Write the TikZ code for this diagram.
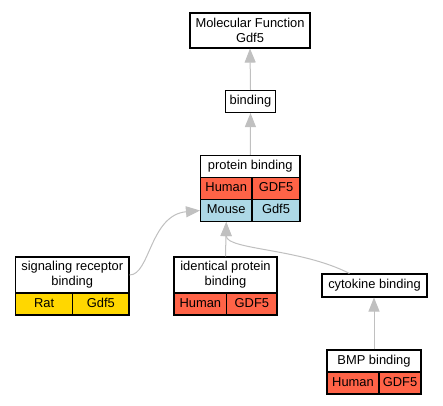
\documentclass[tikz,border=0pt]{standalone}
\usepackage{fontspec}
\setmainfont{Liberation Sans}
\usetikzlibrary{arrows.meta}
\definecolor{human}{HTML}{FF6347}
\definecolor{mouse}{HTML}{ADD8E6}
\definecolor{rat}{HTML}{FFD700}
\definecolor{edgegray}{HTML}{C0C0C0}
\begin{document}
\begin{tikzpicture}[x=1pt,y=-1pt,
  box/.style={draw=black,line width=1.1pt,inner sep=0pt,align=center,
    font=\fontsize{12.9}{15}\selectfont},
  one/.style={box,text height=9.4pt,text depth=2.6pt},
  conn/.style={draw=edgegray,line width=1pt,
    -{Triangle[length=14pt,width=11pt,fill=edgegray,color=edgegray]}}]
\useasboundingbox (0,0) rectangle (443,405);
\fill[white] (0,0) rectangle (443,405);
% Molecular Function
\node[box,minimum width=120pt,minimum height=35pt] (mf) at (250,30.5) {Molecular Function\\Gdf5};
% binding
\node[one,minimum width=50pt,minimum height=22pt] (bind) at (250.5,101.5) {binding};
% protein binding table
\node[one,fill=white,minimum width=99.5pt,minimum height=22pt] (pbh) at (250.25,166.5) {protein binding};
\node[one,fill=human,minimum width=51.5pt,minimum height=22pt] (pbH) at (226.25,188.5) {Human};
\node[one,fill=human,minimum width=48pt,minimum height=22pt] (pbG) at (276,188.5) {GDF5};
\node[one,fill=mouse,minimum width=51.5pt,minimum height=22pt] (pbM) at (226.25,210.5) {Mouse};
\node[one,fill=mouse,minimum width=48pt,minimum height=22pt] (pbg) at (276,210.5) {Gdf5};
% signaling receptor binding
\node[box,fill=white,minimum width=113.5pt,minimum height=36pt] (srh) at (72.25,275) {signaling receptor\\binding};
\node[one,fill=rat,minimum width=57.2pt,minimum height=22pt] (srR) at (44.1,304) {Rat};
\node[one,fill=rat,minimum width=56.3pt,minimum height=22pt] (srG) at (100.85,304) {Gdf5};
% identical protein binding
\node[box,fill=white,minimum width=103pt,minimum height=36pt] (iph) at (225.5,275) {identical protein\\binding};
\node[one,fill=human,minimum width=52.7pt,minimum height=22pt] (ipH) at (200.35,304) {Human};
\node[one,fill=human,minimum width=50.3pt,minimum height=22pt] (ipG) at (251.85,304) {GDF5};
% cytokine binding
\node[one,fill=white,minimum width=105pt,minimum height=23pt] (cyt) at (374.5,285.5) {cytokine binding};
% BMP binding
\node[one,fill=white,minimum width=94pt,minimum height=22pt] (bmph) at (374,361) {BMP binding};
\node[one,fill=human,minimum width=52pt,minimum height=22pt] (bmpH) at (353,383) {Human};
\node[one,fill=human,minimum width=42pt,minimum height=22pt] (bmpG) at (400,383) {GDF5};
% connectors
\draw[conn] (bind.north) -- (mf.south);
\draw[conn] (pbh.north) -- (bind.south);
\draw[conn] (iph.north) -- (pbM.south);
\draw[conn] ([xshift=28pt]cyt.north west) .. controls (300,248) and (226.25,250) .. (pbM.south);
\draw[conn] (srh.east) .. controls (150,275) and (150,215) .. (pbM.west);
\draw[conn] (bmph.north) -- (bmph.north |- cyt.south);
\end{tikzpicture}
\end{document}
